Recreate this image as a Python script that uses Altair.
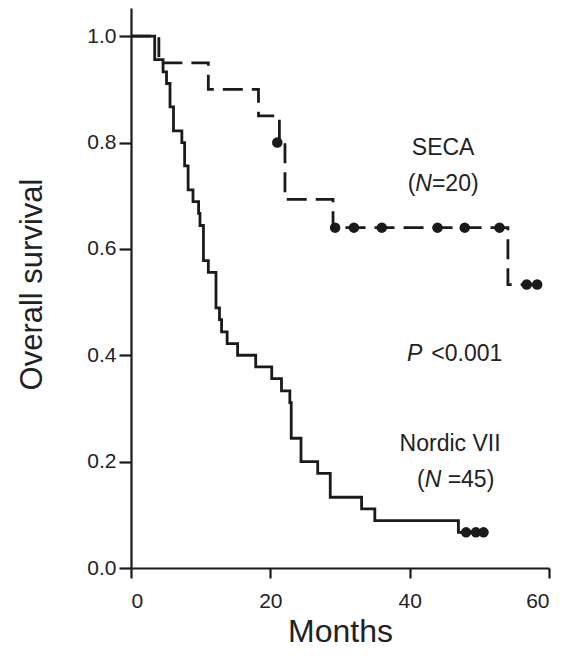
import altair as alt
import pandas as pd

# --- Data ---
seca_time = [0, 4.0, 11.1, 18.3, 21.3, 22.1, 29.0, 54.1, 60.0]
seca_surv = [1.0, 0.95, 0.90, 0.85, 0.80, 0.693, 0.640, 0.533, 0.533]
seca_cens_time = [21.0, 29.3, 32.0, 36.0, 44.0, 47.9, 52.9, 56.8, 58.3]
seca_cens_surv = [0.80, 0.64, 0.64, 0.64, 0.64, 0.64, 0.64, 0.533, 0.533]

nordic_time = [0, 3.4, 4.6, 5.1, 5.6, 6.1, 7.3, 7.7, 8.2, 8.9, 9.7, 9.9, 10.4, 11.1,
               12.2, 12.7, 13.0, 13.8, 15.3, 17.9, 20.2, 21.6, 22.8, 23.0, 24.4,
               26.8, 28.6, 33.1, 35.0, 47.0, 50.8]
nordic_surv = [1.0, 0.956, 0.933, 0.911, 0.867, 0.822, 0.800, 0.756, 0.711, 0.689,
               0.667, 0.644, 0.578, 0.556, 0.489, 0.467, 0.444, 0.422, 0.400, 0.378,
               0.356, 0.333, 0.311, 0.244, 0.200, 0.178, 0.133, 0.111, 0.089, 0.067,
               0.067]
nordic_cens_time = [48.1, 49.5, 50.6]
nordic_cens_surv = [0.067, 0.067, 0.067]

x_ticks = [0, 20, 40, 60]
y_ticks = [0.0, 0.2, 0.4, 0.6, 0.8, 1.0]

FONT = "Liberation Sans"

lines_df = pd.concat([
    pd.DataFrame({"t": seca_time, "s": seca_surv, "g": "SECA"}),
    pd.DataFrame({"t": nordic_time, "s": nordic_surv, "g": "Nordic VII"}),
])
cens_df = pd.concat([
    pd.DataFrame({"t": seca_cens_time, "s": seca_cens_surv, "g": "SECA"}),
    pd.DataFrame({"t": nordic_cens_time, "s": nordic_cens_surv, "g": "Nordic VII"}),
])

xs = alt.Scale(domain=[0, 60], nice=False, zero=False)
ys = alt.Scale(domain=[0, 1.053], nice=False)

x_axis = alt.Axis(values=x_ticks, title="Months", grid=False, tickSize=10, tickWidth=2.2,
                  domainWidth=2.2, domainColor="#1a1a1a", tickColor="#1a1a1a",
                  labelFontSize=21, labelColor="#222", labelPadding=12, labelFont=FONT,
                  titleFont=FONT, titleFontSize=32, titleFontWeight="normal",
                  titleColor="#222", titlePadding=5)
y_axis = alt.Axis(values=y_ticks, format=".1f", title="Overall survival", grid=False,
                  tickSize=12, tickWidth=2.2, domainWidth=2.2, domainColor="#1a1a1a",
                  tickColor="#1a1a1a", labelFontSize=21, labelColor="#222",
                  labelPadding=3, labelFont=FONT, titleFont=FONT, titleFontSize=31,
                  titleFontWeight="normal", titleColor="#222", titleAngle=-90,
                  titleX=-99, titleY=276, titleAlign="center", titleBaseline="middle")

lines = alt.Chart(lines_df).mark_line(interpolate="step-after", strokeWidth=2.8,
                                      color="#1a1a1a").encode(
    x=alt.X("t:Q", scale=xs, axis=x_axis),
    y=alt.Y("s:Q", scale=ys, axis=y_axis),
    detail="g:N",
    strokeDash=alt.StrokeDash("g:N", scale=alt.Scale(domain=["SECA", "Nordic VII"],
                                                      range=[[20, 9], [1, 0]]),
                              legend=None),
)

dots = alt.Chart(cens_df).mark_circle(size=110, opacity=1, color="#1a1a1a").encode(
    x=alt.X("t:Q", scale=xs),
    y=alt.Y("s:Q", scale=ys),
)

# annotation segments: text, x (months), y (survival), dx, align, italic
ann_text = ["SECA", "(", "N", "=20)", "P", "<0.001", "Nordic VII", "(", "N", "=45)"]
ann_x = [44.8, 44.8, 44.8, 44.8, 46.3, 46.3, 45.8, 46.6, 46.6, 46.6]
ann_y = [0.789, 0.722, 0.722, 0.722, 0.402, 0.402, 0.233, 0.165, 0.165, 0.165]
ann_dx = [0, -27.8, -27.8, -11.2, -46.5, -22.2, 0, -31, -31, -8]
ann_align = ["center", "right", "left", "left", "left", "left", "center", "right", "left", "left"]
ann_italic = [False, False, True, False, True, False, False, False, True, False]

texts = []
for t, x, y, dx, al, it in zip(ann_text, ann_x, ann_y, ann_dx, ann_align, ann_italic):
    d = pd.DataFrame({"t": [x], "s": [y], "label": [t]})
    kw = dict(fontSize=23, font=FONT, color="#222", align=al, baseline="middle", dx=dx)
    if it:
        kw["fontStyle"] = "italic"
    texts.append(alt.Chart(d).mark_text(**kw).encode(
        x=alt.X("t:Q", scale=xs), y=alt.Y("s:Q", scale=ys), text="label:N"))

chart = alt.layer(lines, dots, *texts).properties(
    width=418, height=560,
    autosize=alt.AutoSizeParams(type="none"),
    padding={"left": 123, "top": 0, "right": 10, "bottom": 85},
).configure_view(stroke=None)

chart.save("out.html", embed_options={"renderer": "svg", "actions": False})
